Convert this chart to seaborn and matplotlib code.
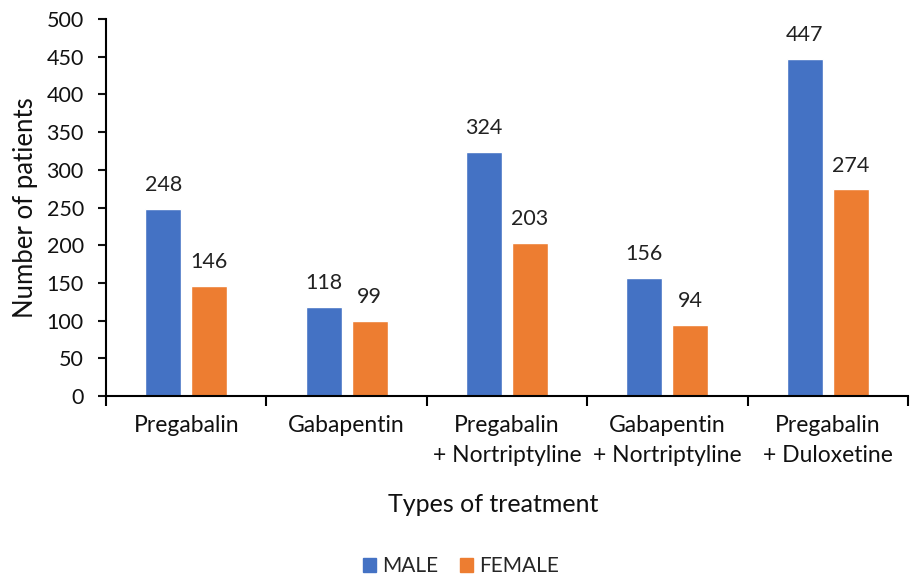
import matplotlib
matplotlib.use("Agg")
import matplotlib.pyplot as plt
import seaborn as sns
import pandas as pd
import numpy as np

categories = ["Pregabalin", "Gabapentin", "Pregabalin\n+ Nortriptyline",
              "Gabapentin\n+ Nortriptyline", "Pregabalin\n+ Duloxetine"]
male = [248, 118, 324, 156, 447]
female = [146, 99, 203, 94, 274]
series = ["MALE", "FEMALE"]
colors = ["#4472C4", "#ED7D31"]
yticks = [0, 50, 100, 150, 200, 250, 300, 350, 400, 450, 500]

sns.set_theme(style="white")
plt.rcParams['font.family'] = ['Lato', 'DejaVu Sans']

df = pd.DataFrame({
    "cat": categories * 2,
    "val": male + female,
    "sex": [series[0]] * len(categories) + [series[1]] * len(categories),
})

fig = plt.figure(figsize=(9.12, 5.78), dpi=100)
ax = fig.add_axes([106/912, 1-396/578, (908-106)/912, (396-19)/578])

sns.barplot(data=df, x="cat", y="val", hue="sex", palette=colors,
            width=0.574, gap=0.216, ax=ax, legend=True, saturation=1)

for c in ax.containers:
    ax.bar_label(c, fmt="%d", padding=10, fontsize=15.5, color="#222222")

ax.set_ylim(0, 500)
ax.set_yticks(yticks)
ax.set_xlim(-0.5, len(categories) - 0.5)
ax.set_xlabel("")
ax.set_ylabel("Number of patients", fontsize=18.5, color="#111111", labelpad=6)
ax.tick_params(axis="y", labelsize=15.5, length=6, width=1.5, direction="out",
               left=True, colors="#111111", pad=10)
ax.tick_params(axis="x", labelsize=16.5, length=0, pad=14, colors="#111111")
ax.set_xticks(range(len(categories)))
ax.set_xticklabels(categories, fontsize=16.5, linespacing=1.5)
ax.set_xticks(np.arange(-0.5, len(categories), 1.0), minor=True)
ax.tick_params(axis="x", which="minor", length=7, width=1.5, direction="out",
               bottom=True, color="black")

for s in ["top", "right"]:
    ax.spines[s].set_visible(False)
for s in ["left", "bottom"]:
    ax.spines[s].set_color("black")
    ax.spines[s].set_linewidth(1.5)

fig.text(493/912, 1-505/578, "Types of treatment", ha="center", va="center",
         fontsize=18, color="#111111")

ax.get_legend().remove()
handles = [plt.Rectangle((0, 0), 1, 1, color=c) for c in colors]
fig.legend(handles, series, loc="center", bbox_to_anchor=(461/912, 1-566/578),
           ncol=2, frameon=False, fontsize=15, handlelength=0.65, handleheight=0.65,
           columnspacing=1.0, handletextpad=0.3)

fig.savefig("out.png", dpi=100)
